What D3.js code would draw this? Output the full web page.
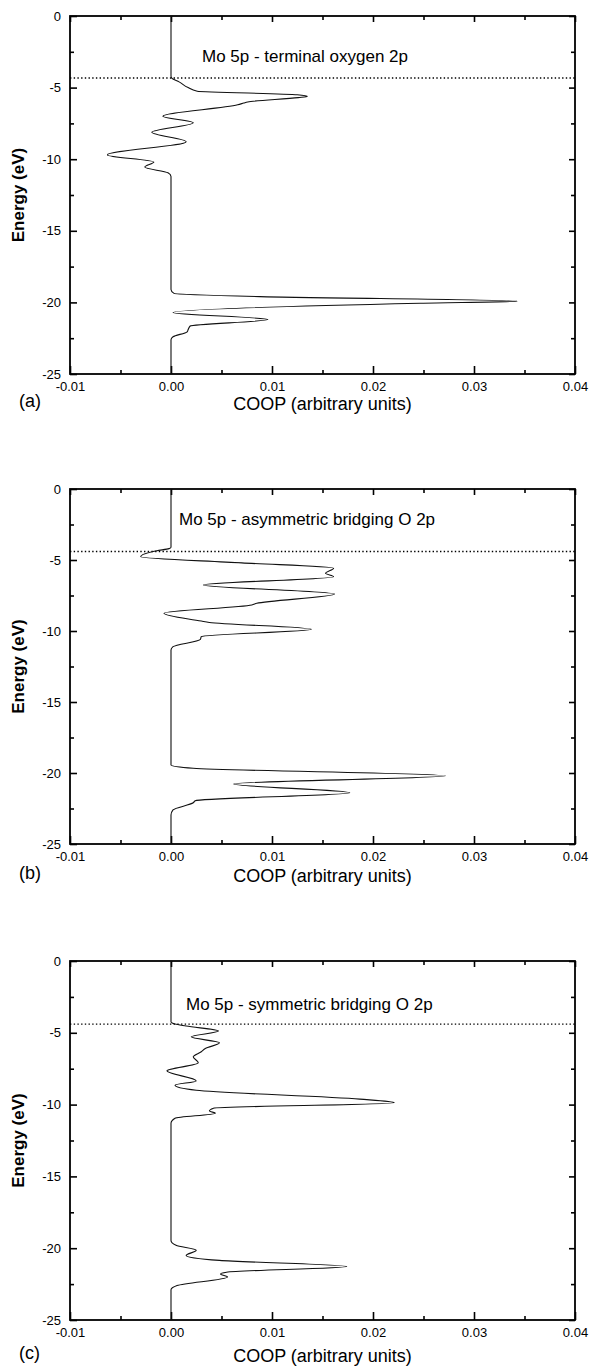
<!DOCTYPE html>
<html>
<head>
<meta charset="utf-8">
<script src="https://cdn.jsdelivr.net/npm/d3@7"></script>
<style>
  body { margin: 0; background: #fff; }
  svg { font-family: Arial, "Liberation Sans", sans-serif; }
</style>
</head>
<body>
<div id="main"></div>
<script>
const ctx = {
    w: 590,
    h: 1369,
    left: 70,
    right: 575
};

// axis ticks
const xTicks = [-0.01, 0.00, 0.01, 0.02, 0.03, 0.04];
const xMinorTicks = [-0.005, 0.005, 0.015, 0.025, 0.035];
const yTicks = [0, -5, -10, -15, -20, -25];
const yMinorTicks = [-2.5, -7.5, -12.5, -17.5, -22.5];

const panelLetters = ["(a)", "(b)", "(c)"];
const panelTitles = [
    "Mo 5p - terminal oxygen 2p",
    "Mo 5p - asymmetric bridging O 2p",
    "Mo 5p - symmetric bridging O 2p"
];
// Fermi level (dotted line), eV
const fermiLevels = [-4.33, -4.4, -4.4];

// COOP curves, [energy (eV), COOP]
const termO2p = [
    [0, 0], [-4.2, 0], [-4.35, 0.0001], [-4.6, 0.0008], [-5.0, 0.0017], [-5.25, 0.0026],
    [-5.5, 0.0125], [-5.62, 0.0135], [-5.7, 0.0126], [-6.0, 0.0076], [-6.08, 0.0072],
    [-6.2, 0.0066], [-7.0, -0.0008], [-7.45, 0.0022], [-8.12, -0.0019], [-8.78, 0.0015],
    [-9.7, -0.0063], [-10.2, -0.0017], [-10.55, -0.0026], [-10.95, -0.0003], [-11.2, 0],
    [-19.1, 0], [-19.37, 0.0003], [-19.6, 0.0088], [-19.92, 0.0343], [-20.06, 0.0247],
    [-20.7, 0.0002], [-21.2, 0.0096], [-21.65, 0.0019], [-21.9, 0.0017], [-22.05, 0.0016],
    [-22.4, 0.0002], [-22.6, 0], [-25, 0]
];
const asymO2p = [
    [0, 0], [-4.1, 0], [-4.2, -0.0002], [-4.35, -0.0014], [-4.77, -0.003], [-5.2, 0.007],
    [-5.58, 0.0161], [-5.94, 0.0153], [-6.18, 0.0161], [-6.76, 0.0032], [-7.39, 0.0162],
    [-8.05, 0.0085], [-8.17, 0.008], [-8.75, -0.0007], [-9.3, 0.003], [-9.4, 0.0038],
    [-9.88, 0.0139], [-10.4, 0.003], [-10.6, 0.0029], [-11.1, 0.0002], [-11.34, 0],
    [-19.44, 0], [-19.67, 0.0022], [-20.2, 0.0272], [-20.77, 0.0062], [-21.39, 0.0177],
    [-21.95, 0.0024], [-22.1, 0.0022], [-22.6, 0.0002], [-22.96, 0], [-25, 0]
];
const symO2p = [
    [0, 0], [-4.23, 0], [-4.39, 0.0004], [-4.53, 0.0015], [-4.88, 0.0047], [-5.28, 0.002],
    [-5.7, 0.0048], [-6.09, 0.0034], [-6.32, 0.003], [-6.67, 0.0022], [-7.09, 0.0027],
    [-7.65, -0.0004], [-8.35, 0.0025], [-8.65, 0.0004], [-9.0, 0.0025], [-9.62, 0.0187],
    [-9.87, 0.0221], [-10.25, 0.0042], [-10.45, 0.0038], [-10.6, 0.0044], [-10.95, 0.0004],
    [-11.3, 0], [-19.46, 0], [-19.8, 0.0005], [-20.15, 0.0025], [-20.5, 0.0015],
    [-20.85, 0.0048], [-21.27, 0.0174], [-21.67, 0.0055], [-21.8, 0.0049], [-22.0, 0.0056],
    [-22.6, 0.0006], [-22.9, 0], [-25, 0]
];
const curves = [termO2p, asymO2p, symO2p];

// layout of the three stacked panels
const layout = [
    { top: 16, bottom: 374, titleX: 202, titleY: 62, labelY: 410 },
    { top: 489, bottom: 844, titleX: 179, titleY: 525, labelY: 882 },
    { top: 961, bottom: 1320, titleX: 186, titleY: 1010, labelY: 1362 }
];

function drawPanel(svg, i) {
    let p = layout[i];
    let g = svg.append("g").attr("id", "panel_" + i);
    let xScale = d3.scaleLinear().domain([-0.01, 0.04]).range([ctx.left, ctx.right]);
    let yScale = d3.scaleLinear().domain([0, -25]).range([p.top, p.bottom]);

    // bottom axis, ticks inward
    g.append("g")
        .attr("transform", "translate(0," + p.bottom + ")")
        .call(d3.axisBottom(xScale).tickValues(xTicks).tickSize(-8).tickSizeOuter(0)
            .tickPadding(8).tickFormat((d) => d.toFixed(2)));
    g.append("g")
        .attr("transform", "translate(0," + p.bottom + ")")
        .call(d3.axisBottom(xScale).tickValues(xMinorTicks).tickSize(-4).tickSizeOuter(0).tickFormat(""));
    // top axis (mirror)
    g.append("g")
        .attr("transform", "translate(0," + p.top + ")")
        .call(d3.axisTop(xScale).tickValues(xTicks).tickSize(-6).tickSizeOuter(0).tickFormat(""));
    g.append("g")
        .attr("transform", "translate(0," + p.top + ")")
        .call(d3.axisTop(xScale).tickValues(xMinorTicks).tickSize(-4).tickSizeOuter(0).tickFormat(""));
    // left axis
    g.append("g")
        .attr("transform", "translate(" + ctx.left + ",0)")
        .call(d3.axisLeft(yScale).tickValues(yTicks).tickSize(-7).tickSizeOuter(0)
            .tickPadding(9).tickFormat((d) => String(d)));
    g.append("g")
        .attr("transform", "translate(" + ctx.left + ",0)")
        .call(d3.axisLeft(yScale).tickValues(yMinorTicks).tickSize(-4).tickSizeOuter(0).tickFormat(""));
    // right axis
    g.append("g")
        .attr("transform", "translate(" + ctx.right + ",0)")
        .call(d3.axisRight(yScale).tickValues(yTicks).tickSize(-6).tickSizeOuter(0).tickFormat(""));
    g.append("g")
        .attr("transform", "translate(" + ctx.right + ",0)")
        .call(d3.axisRight(yScale).tickValues(yMinorTicks).tickSize(-4).tickSizeOuter(0).tickFormat(""));

    g.selectAll(".domain").remove();
    g.selectAll(".tick line").attr("stroke", "#000").attr("stroke-width", 1.6);
    g.selectAll(".tick text").attr("fill", "#000").attr("font-size", 13);

    // frame
    g.append("rect")
        .attr("x", ctx.left)
        .attr("y", p.top)
        .attr("width", ctx.right - ctx.left)
        .attr("height", p.bottom - p.top)
        .attr("fill", "none")
        .attr("stroke", "#000")
        .attr("stroke-width", 1.8);

    // Fermi level
    g.append("line")
        .attr("x1", ctx.left)
        .attr("x2", ctx.right)
        .attr("y1", yScale(fermiLevels[i]))
        .attr("y2", yScale(fermiLevels[i]))
        .attr("stroke", "#000")
        .attr("stroke-width", 1.3)
        .attr("stroke-dasharray", "1.4,2.3");

    // COOP curve
    let line = d3.line()
        .x((d) => xScale(d[1]))
        .y((d) => yScale(d[0]))
        .curve(d3.curveMonotoneY);
    g.append("path")
        .datum(curves[i])
        .attr("d", line)
        .attr("fill", "none")
        .attr("stroke", "#111")
        .attr("stroke-width", 1.1);

    // texts
    g.append("text")
        .attr("x", p.titleX)
        .attr("y", p.titleY)
        .attr("font-size", 17)
        .text(panelTitles[i]);
    g.append("text")
        .attr("x", (ctx.left + ctx.right) / 2)
        .attr("y", p.labelY)
        .attr("text-anchor", "middle")
        .attr("font-size", 18)
        .text("COOP (arbitrary units)");
    g.append("text")
        .attr("x", 19)
        .attr("y", p.labelY - 3)
        .attr("font-size", 18)
        .text(panelLetters[i]);
    g.append("text")
        .attr("transform", "translate(24," + (p.top + p.bottom) / 2 + ") rotate(-90)")
        .attr("text-anchor", "middle")
        .attr("font-size", 17)
        .attr("font-weight", "bold")
        .text("Energy (eV)");
}

function createViz() {
    let svg = d3.select("#main").append("svg")
        .attr("width", ctx.w)
        .attr("height", ctx.h);
    for (let i = 0; i < curves.length; i++) {
        drawPanel(svg, i);
    }
}

createViz();
</script>
</body>
</html>
